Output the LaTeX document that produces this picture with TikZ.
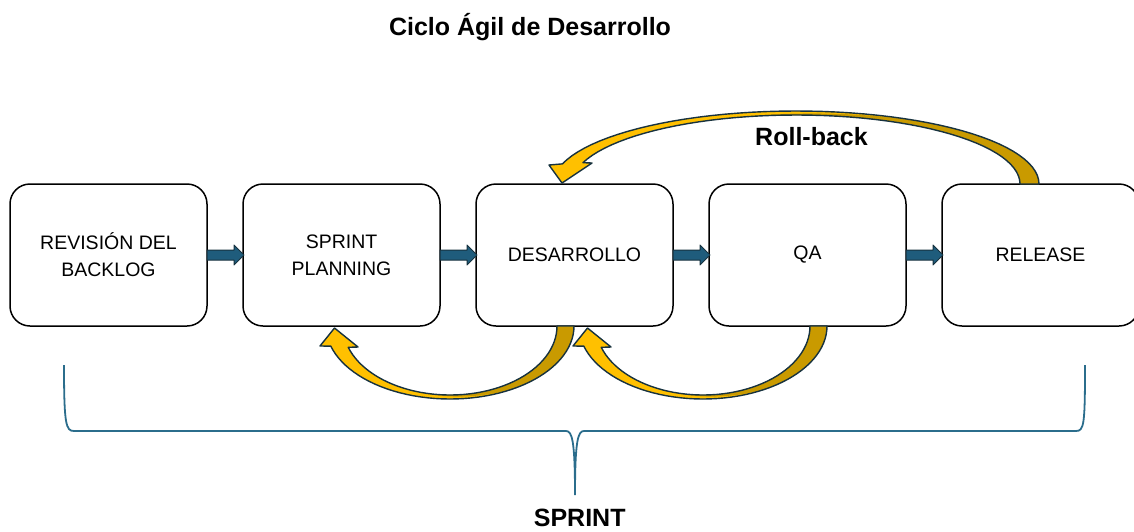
\documentclass[tikz,border=0pt]{standalone}
\usepackage{fontspec}
\setmainfont{Liberation Sans}
\usetikzlibrary{positioning,calc}

\definecolor{gold}{HTML}{FFC000}
\definecolor{darkgold}{HTML}{C99A00}
\definecolor{navyline}{HTML}{17323F}
\definecolor{flowblue}{HTML}{1F5C7C}
\definecolor{bracecol}{HTML}{2B6D8C}

% curved block arrow drawn round the origin: #1 side (1 down, -1 up),
% #2/#3 outer radii, #4/#5 inner radii, #6 outer barb, #7 tip, #8 inner barb
\newcommand{\bentarrow}[8]{%
  \fill[gold] plot[domain=0:164] ({#2*cos(#1*\x)},{#3*sin(#1*\x)})
    -- #6 -- #7 -- #8
    -- plot[domain=162:0] ({#4*cos(#1*\x)},{#5*sin(#1*\x)}) -- cycle;
  \fill[darkgold] plot[domain=0:60] ({#2*cos(#1*\x)},{#3*sin(#1*\x)})
    -- plot[domain=60:106] ({(#2+(#4-#2)*(\x-60)/46)*cos(#1*\x)},{(#3+(#5-#3)*(\x-60)/46)*sin(#1*\x)})
    -- plot[domain=106:0] ({#4*cos(#1*\x)},{#5*sin(#1*\x)}) -- cycle;
  \draw[bendline] plot[domain=0:164] ({#2*cos(#1*\x)},{#3*sin(#1*\x)})
    -- #6 -- #7 -- #8
    -- plot[domain=162:0] ({#4*cos(#1*\x)},{#5*sin(#1*\x)}) -- cycle;
}

% straight block arrow between two boxes
\newcommand{\flowarrow}[2]{%
  \draw[flow] ($(#1.east)+(0,-5)$) -- ($(#2.west)+(-9,-5)$) -- ($(#2.west)+(-9,-10)$)
    -- ($(#2.west)+(1,0)$) -- ($(#2.west)+(-9,10)$) -- ($(#2.west)+(-9,5)$)
    -- ($(#1.east)+(0,5)$) -- cycle;
}

\begin{document}
\begin{tikzpicture}[x=1pt,y=-1pt,node distance=36pt,samples=50,
    stage/.style={draw,line width=1.5pt,rounded corners=20pt,minimum width=197pt,
                  minimum height=142pt,inner sep=0pt,outer sep=0pt,align=center,
                  font=\fontsize{19.5}{27}\selectfont},
    heading/.style={anchor=base,inner sep=0pt,font=\fontsize{25}{29}\selectfont\bfseries},
    flow/.style={fill=flowblue,draw=navyline,line width=1pt,line join=round},
    bendline/.style={draw=navyline,line width=1.4pt,line join=round},
    brace/.style={draw=bracecol,line width=1.8pt}]

  \path[use as bounding box,clip] (0,0) rectangle (1134,531);

  \node[heading] (title) at (530,35.5) {Ciclo Ágil de Desarrollo};

  \node[stage] (backlog) at (108.5,255) {REVISIÓN DEL\\BACKLOG};
  \node[stage] (planning) [right=of backlog] {SPRINT\\PLANNING};
  \node[stage] (dev) [right=of planning] {DESARROLLO};
  \node[stage] (qa) [right=of dev] {QA};
  \node[stage] (release) [right=of qa] {RELEASE};

  \foreach \a/\b in {backlog/planning,planning/dev,dev/qa,qa/release}
    \flowarrow{\a}{\b};

  % loops back under the boxes
  \begin{scope}[shift={($(planning.south)+(108.5,0)$)}]
    \bentarrow{1}{124}{73}{107}{69}{(-130,20)}{(-115.5,2)}{(-92,21)}
  \end{scope}
  \begin{scope}[shift={($(dev.south)+(128.5,0)$)}]
    \bentarrow{1}{124}{73}{107}{69}{(-130,20)}{(-115.5,2)}{(-92,21)}
  \end{scope}
  % roll-back over the boxes
  \begin{scope}[shift={($(release.north)+(-244.5,0)$)}]
    \bentarrow{-1}{243}{73}{224}{69}{(-247,-19)}{(-234,-1)}{(-204,-21)}
  \end{scope}
  \node[heading] (rollback) at (811.5,145) {Roll-back};

  % brace under the cycle
  \coordinate (braceL) at (64,365);
  \coordinate (braceM) at (575,495);
  \coordinate (braceR) at (1085,365);
  \draw[brace] (braceL) .. controls (64,425) and (66,431) .. (74,431) -- (566,431)
    .. controls (572,431) and (575,440) .. (braceM)
    .. controls (575,440) and (578,431) .. (584,431) -- (1076,431)
    .. controls (1084,431) and (1085,425) .. (braceR);
  \node[heading] (sprint) at (579.7,526.5) {SPRINT};
\end{tikzpicture}
\end{document}
